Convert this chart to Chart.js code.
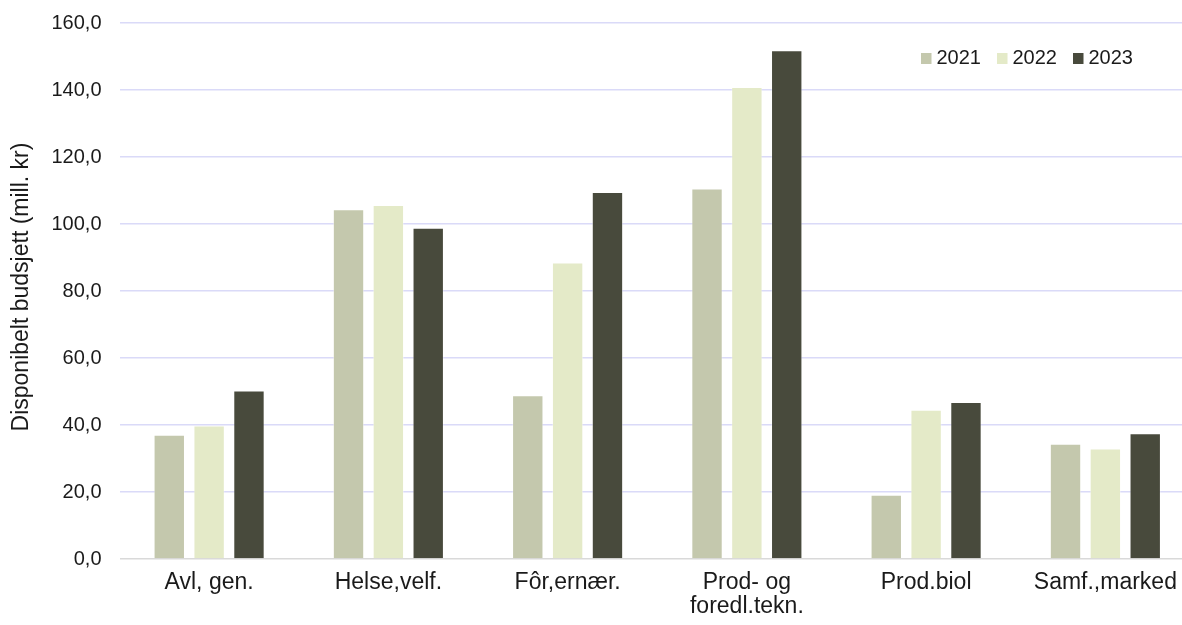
<!DOCTYPE html>
<html>
<head>
<meta charset="utf-8">
<script src="https://cdn.jsdelivr.net/npm/chart.js@4"></script>
<style>
  html, body { margin: 0; padding: 0; background: #fff; overflow: hidden; }
  #wrap { width: 1195px; height: 625px; position: relative; }
</style>
</head>
<body>
<div id="wrap"><canvas id="budget"></canvas></div>
<script>
// ==============================
// Data
// ==============================
const categories = ["Avl, gen.", "Helse,velf.", "Fôr,ernær.", ["Prod- og", "foredl.tekn."], "Prod.biol", "Samf.,marked"];
const years = ["2021", "2022", "2023"];
const values2021 = [37.0, 104.3, 48.8, 110.5, 19.1, 34.3];
const values2022 = [39.8, 105.6, 88.4, 140.8, 44.5, 32.9];
const values2023 = [50.2, 98.8, 109.5, 151.8, 46.8, 37.5];
const yearColors = ["#c4c8ad", "#e4eac8", "#484a3c"];

const FONT = "'Liberation Sans', Arial, sans-serif";
const TEXT = "#1a1a1a";

// Legend drawn inside the plot, top-right
const innerLegend = {
  id: "innerLegend",
  afterDraw(chart) {
    const ctx = chart.ctx;
    ctx.save();
    ctx.font = "20px " + FONT;
    ctx.textBaseline = "middle";
    chart.data.datasets.forEach((ds, i) => {
      const x = 921 + i * 76;
      const y = 58.5;
      ctx.fillStyle = ds.backgroundColor;
      ctx.fillRect(x, y - 5.5, 10.5, 11);
      ctx.fillStyle = TEXT;
      ctx.fillText(ds.label, x + 15.5, y);
    });
    ctx.restore();
  }
};

// y title sits a little above the middle of the axis in the original
const titleShift = {
  id: "titleShift",
  afterUpdate(chart) {
    const y = chart.scales.y;
    if (y._drawTitle) return;
    y._drawTitle = y.drawTitle;
    y.drawTitle = function (...args) {
      this.ctx.save();
      this.ctx.translate(0, -4);
      this._drawTitle.apply(this, args);
      this.ctx.restore();
    };
  }
};

const seriesValues = [values2021, values2022, values2023];

new Chart(document.getElementById("budget"), {
  type: "bar",
  data: {
    labels: categories,
    datasets: years.map((yr, i) => ({
      label: yr,
      data: seriesValues[i],
      backgroundColor: yearColors[i],
      borderColor: "rgba(255,255,255,0.5)",
      borderWidth: 0.75,
      categoryPercentage: 0.667,
      barPercentage: 0.775
    }))
  },
  options: {
    responsive: true,
    maintainAspectRatio: false,
    animation: false,
    layout: { padding: { top: 23, left: 0, right: 0, bottom: 0 } },
    plugins: {
      legend: { display: false },
      tooltip: { enabled: false }
    },
    scales: {
      x: {
        grid: { display: false, drawTicks: false },
        border: { display: false },
        ticks: {
          color: TEXT,
          font: { family: FONT, size: 23, lineHeight: 1.04 },
          padding: 12,
          maxRotation: 0,
          autoSkip: false
        },
        afterFit(scale) { scale.height = 66; }
      },
      y: {
        min: 0,
        max: 160,
        ticks: {
          stepSize: 20,
          color: TEXT,
          padding: 5,
          font: { family: FONT, size: 20 },
          callback: (v) => v.toFixed(1).replace(".", ",")
        },
        grid: {
          drawTicks: true,
          tickLength: 13,
          tickColor: "rgba(0,0,0,0)",
          lineWidth: 1.6,
          color: (c) => (c.tick && c.tick.value === 0 ? "#d9d9d9" : "#dadaf8")
        },
        border: { display: false },
        title: {
          display: true,
          text: "Disponibelt budsjett (mill. kr)",
          color: TEXT,
          font: { family: FONT, size: 23, lineHeight: 1.04 },
          padding: { top: 10, bottom: 0 }
        },
        afterFit(scale) { scale.width = 119.5; }
      }
    }
  },
  plugins: [innerLegend, titleShift]
});
</script>
</body>
</html>
